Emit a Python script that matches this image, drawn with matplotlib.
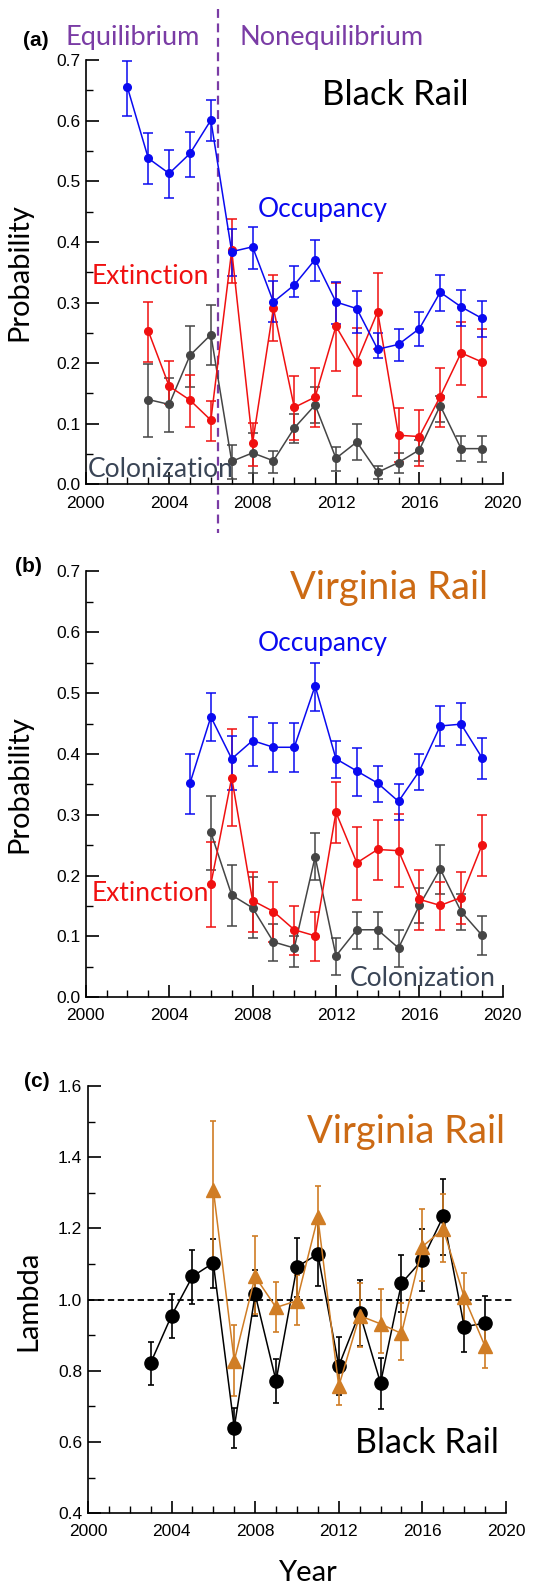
import matplotlib
matplotlib.use("Agg")
import matplotlib.pyplot as plt
from matplotlib.ticker import MultipleLocator, FormatStrFormatter

# ---- data ----
# (a) Black Rail
br_occ_years = list(range(2002, 2020))
br_occ = [0.655, 0.538, 0.513, 0.546, 0.601, 0.384, 0.392, 0.301, 0.329, 0.371,
          0.301, 0.290, 0.223, 0.231, 0.257, 0.317, 0.293, 0.274]
br_occ_lo = [0.608, 0.495, 0.472, 0.508, 0.566, 0.344, 0.356, 0.268, 0.310, 0.336,
             0.265, 0.250, 0.208, 0.204, 0.228, 0.286, 0.261, 0.243]
br_occ_hi = [0.698, 0.579, 0.551, 0.582, 0.635, 0.422, 0.424, 0.335, 0.360, 0.403,
             0.334, 0.319, 0.249, 0.257, 0.284, 0.346, 0.320, 0.303]

br_years = list(range(2003, 2020))
br_ext = [0.253, 0.162, 0.139, 0.106, 0.386, 0.068, 0.291, 0.127, 0.144, 0.261,
          0.202, 0.285, 0.081, 0.079, 0.145, 0.217, 0.202]
br_ext_lo = [0.202, 0.132, 0.095, 0.071, 0.332, 0.030, 0.237, 0.073, 0.095, 0.187,
             0.146, 0.223, 0.037, 0.031, 0.095, 0.164, 0.145]
br_ext_hi = [0.301, 0.204, 0.181, 0.138, 0.438, 0.101, 0.345, 0.179, 0.192, 0.332,
             0.258, 0.348, 0.126, 0.123, 0.192, 0.268, 0.257]
br_col = [0.140, 0.132, 0.213, 0.247, 0.038, 0.052, 0.039, 0.093, 0.131, 0.043,
          0.070, 0.020, 0.036, 0.057, 0.130, 0.059, 0.059]
br_col_lo = [0.078, 0.087, 0.161, 0.197, 0.009, 0.018, 0.019, 0.069, 0.101, 0.022,
             0.041, 0.009, 0.018, 0.038, 0.103, 0.038, 0.037]
br_col_hi = [0.198, 0.176, 0.262, 0.296, 0.065, 0.084, 0.055, 0.116, 0.160, 0.062,
             0.099, 0.031, 0.051, 0.074, 0.146, 0.080, 0.080]

# (b) Virginia Rail
vr_occ_years = list(range(2005, 2020))
vr_occ = [0.352, 0.461, 0.392, 0.422, 0.411, 0.411, 0.512, 0.392, 0.372, 0.352,
          0.322, 0.372, 0.446, 0.449, 0.394]
vr_occ_lo = [0.302, 0.421, 0.341, 0.381, 0.371, 0.371, 0.471, 0.361, 0.331, 0.321,
             0.291, 0.341, 0.413, 0.415, 0.359]
vr_occ_hi = [0.400, 0.500, 0.430, 0.461, 0.451, 0.451, 0.550, 0.421, 0.410, 0.381,
             0.351, 0.400, 0.479, 0.483, 0.427]

vr_years = list(range(2006, 2020))
vr_ext = [0.186, 0.361, 0.159, 0.141, 0.111, 0.101, 0.304, 0.221, 0.243, 0.241,
          0.161, 0.151, 0.164, 0.250]
vr_ext_lo = [0.115, 0.282, 0.107, 0.091, 0.070, 0.060, 0.254, 0.160, 0.192, 0.181,
             0.111, 0.111, 0.120, 0.199]
vr_ext_hi = [0.255, 0.441, 0.206, 0.190, 0.150, 0.140, 0.354, 0.280, 0.291, 0.301,
             0.210, 0.190, 0.206, 0.300]
vr_col = [0.271, 0.168, 0.147, 0.091, 0.081, 0.231, 0.068, 0.111, 0.111, 0.081,
          0.151, 0.211, 0.141, 0.102]
vr_col_lo = [0.210, 0.118, 0.097, 0.060, 0.050, 0.192, 0.037, 0.080, 0.080, 0.050,
             0.122, 0.170, 0.111, 0.070]
vr_col_hi = [0.331, 0.217, 0.198, 0.120, 0.101, 0.270, 0.097, 0.140, 0.140, 0.111,
             0.180, 0.251, 0.170, 0.134]

# (c) lambda
br_lam_years = list(range(2003, 2020))
br_lam = [0.822, 0.955, 1.065, 1.103, 0.641, 1.015, 0.772, 1.092, 1.128, 0.814,
          0.963, 0.766, 1.046, 1.112, 1.234, 0.924, 0.934]
br_lam_lo = [0.760, 0.892, 0.988, 1.032, 0.583, 0.954, 0.710, 1.008, 1.037, 0.733,
             0.870, 0.692, 0.964, 1.025, 1.124, 0.852, 0.857]
br_lam_hi = [0.881, 1.016, 1.140, 1.170, 0.696, 1.084, 0.832, 1.173, 1.215, 0.894,
             1.056, 0.836, 1.126, 1.197, 1.339, 0.997, 1.011]

vr_lam_years = list(range(2006, 2020))
vr_lam = [1.309, 0.828, 1.065, 0.978, 0.997, 1.231, 0.757, 0.955, 0.932, 0.905,
          1.149, 1.198, 1.007, 0.869]
vr_lam_lo = [1.117, 0.730, 0.960, 0.910, 0.930, 1.140, 0.703, 0.866, 0.849, 0.830,
             1.053, 1.105, 0.936, 0.807]
vr_lam_hi = [1.501, 0.930, 1.180, 1.049, 1.070, 1.320, 0.825, 1.046, 1.030, 0.990,
             1.255, 1.297, 1.074, 0.936]

split_year = 2006.35

BLUE = "#0a0af0"
RED = "#f01010"
GRAY = "#454545"
ORANGE = "#d07d25"
ORANGE_TXT = "#cc6a14"
PURPLE = "#7a3ca5"
SLATE = "#3a4556"

LBL_FONT = ["Lato", "DejaVu Sans"]
TICK_FONT = "Liberation Sans"
LBL_SIZE = 19


def err(v, lo, hi):
    return [[a - b for a, b in zip(v, lo)], [b - a for a, b in zip(v, hi)]]


def style_axis(ax, ymin, ymax, ymaj, ymin_step):
    ax.set_xlim(2000, 2020)
    ax.set_ylim(ymin, ymax)
    ax.spines["top"].set_visible(False)
    ax.spines["right"].set_visible(False)
    for s in ["left", "bottom"]:
        ax.spines[s].set_linewidth(1.2)
    ax.xaxis.set_major_locator(MultipleLocator(4))
    ax.xaxis.set_minor_locator(MultipleLocator(1))
    ax.yaxis.set_major_locator(MultipleLocator(ymaj))
    ax.yaxis.set_minor_locator(MultipleLocator(ymin_step))
    ax.yaxis.set_major_formatter(FormatStrFormatter("%.1f"))
    ax.tick_params(axis="both", which="major", direction="in", length=9, width=1.2,
                   labelsize=12.5)
    ax.tick_params(axis="both", which="minor", direction="in", length=5, width=1.0)
    ax.tick_params(axis="x", which="major", pad=8)
    ax.tick_params(axis="y", which="major", pad=4)
    for lab in ax.get_xticklabels() + ax.get_yticklabels():
        lab.set_fontfamily(TICK_FONT)


def series(ax, x, v, lo, hi, color, marker="o", ms=5.5, cap=3.5, elw=1.1):
    ax.errorbar(x, v, yerr=err(v, lo, hi), color=color, marker=marker, ms=ms,
                lw=1.1, elinewidth=elw, capsize=cap, capthick=elw, clip_on=False)


def label(ax, x, y, s, color, size=LBL_SIZE):
    ax.text(x, y, s, transform=ax.transAxes, color=color, fontsize=size,
            family=LBL_FONT, ha="left", va="center")


fig = plt.figure(figsize=(5.36, 15.83), dpi=100)

# ---- (a) ----
ax1 = fig.add_axes([0.160, 0.694, 0.778, 0.268])
style_axis(ax1, 0, 0.7, 0.1, 0.05)
series(ax1, br_years, br_col, br_col_lo, br_col_hi, GRAY)
series(ax1, br_years, br_ext, br_ext_lo, br_ext_hi, RED)
series(ax1, br_occ_years, br_occ, br_occ_lo, br_occ_hi, BLUE)
ax1.plot([split_year, split_year], [0.785, -0.08], color=PURPLE, lw=1.6,
         ls=(0, (4, 2.5)), clip_on=False)
ax1.set_ylabel("Probability", fontsize=21, family=LBL_FONT)
ax1.yaxis.set_label_coords(-0.127, 0.5)
ax1.text(0.113, 1.054, "Equilibrium", transform=ax1.transAxes, color=PURPLE,
         fontsize=19.5, family=LBL_FONT, ha="center", va="center")
ax1.text(0.59, 1.054, "Nonequilibrium", transform=ax1.transAxes, color=PURPLE,
         fontsize=19.5, family=LBL_FONT, ha="center", va="center")
label(ax1, 0.566, 0.918, "Black Rail", "black", 25)
label(ax1, 0.412, 0.647, "Occupancy", BLUE)
label(ax1, 0.013, 0.489, "Extinction", RED)
label(ax1, 0.005, 0.035, "Colonization", SLATE)
fig.text(0.043, 0.9747, "(a)", fontsize=15, fontweight="bold", family=TICK_FONT,
         ha="left", va="center")

# ---- (b) ----
ax2 = fig.add_axes([0.160, 0.370, 0.778, 0.269])
style_axis(ax2, 0, 0.7, 0.1, 0.05)
series(ax2, vr_years, vr_col, vr_col_lo, vr_col_hi, GRAY)
series(ax2, vr_years, vr_ext, vr_ext_lo, vr_ext_hi, RED)
series(ax2, vr_occ_years, vr_occ, vr_occ_lo, vr_occ_hi, BLUE)
ax2.set_ylabel("Probability", fontsize=21, family=LBL_FONT)
ax2.yaxis.set_label_coords(-0.127, 0.5)
label(ax2, 0.489, 0.962, "Virginia Rail", ORANGE_TXT, 27.5)
label(ax2, 0.412, 0.831, "Occupancy", BLUE)
label(ax2, 0.013, 0.244, "Extinction", RED)
label(ax2, 0.633, 0.045, "Colonization", SLATE)
fig.text(0.028, 0.642, "(b)", fontsize=15, fontweight="bold", family=TICK_FONT,
         ha="left", va="center")

# ---- (c) ----
ax3 = fig.add_axes([0.164, 0.044, 0.780, 0.270])
style_axis(ax3, 0.4, 1.6, 0.2, 0.1)
ax3.plot([2000, 2020.4], [1.0, 1.0], color="black", lw=1.3, ls=(0, (3.5, 2)),
         clip_on=False)
series(ax3, br_lam_years, br_lam, br_lam_lo, br_lam_hi, "black", ms=9.5, cap=2.2,
       elw=1.2)
series(ax3, vr_lam_years, vr_lam, vr_lam_lo, vr_lam_hi, ORANGE, marker="^", ms=9.5,
       cap=2.2, elw=1.2)
ax3.set_ylabel("Lambda", fontsize=21, family=LBL_FONT)
ax3.yaxis.set_label_coords(-0.112, 0.497)
ax3.set_xlabel("Year", fontsize=21, family=LBL_FONT)
ax3.xaxis.set_label_coords(0.526, -0.108)
label(ax3, 0.524, 0.892, "Virginia Rail", ORANGE_TXT, 27.5)
label(ax3, 0.639, 0.164, "Black Rail", "black", 24.5)
fig.text(0.045, 0.3165, "(c)", fontsize=15, fontweight="bold", family=TICK_FONT,
         ha="left", va="center")

fig.savefig("out.png", dpi=100)
